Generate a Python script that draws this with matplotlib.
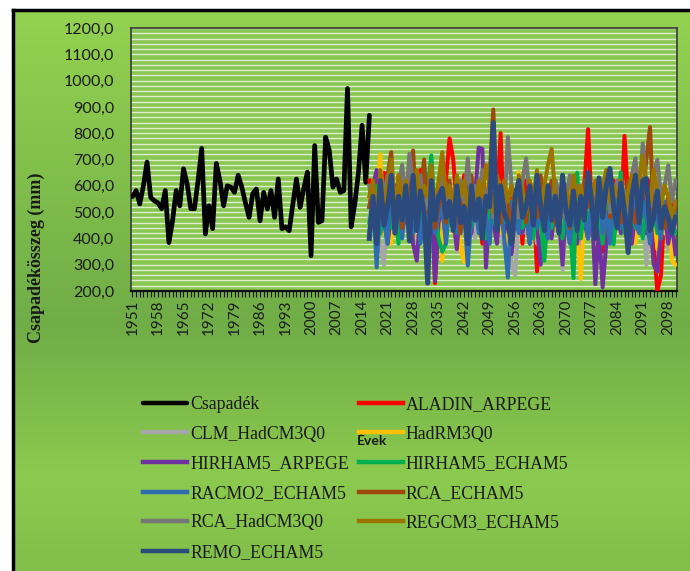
import numpy as np
import matplotlib.pyplot as plt
from matplotlib.colors import LinearSegmentedColormap
from matplotlib.ticker import FuncFormatter, MultipleLocator

# Measured yearly precipitation 1951-2016 (mm)
obs_years = list(range(1951, 2017))
csapadek = [559, 582, 531, 600, 690, 556, 543, 535, 513, 582,
            384, 467, 582, 524, 665, 608, 513, 513, 620, 742,
            417, 524, 437, 685, 620, 524, 600, 595, 575, 640,
            595, 535, 480, 570, 588, 467, 575, 512, 582, 480,
            626, 437, 444, 429, 530, 626, 518, 590, 652, 334,
            753, 461, 467, 785, 734, 595, 626, 575, 582, 970,
            444, 531, 650, 830, 613, 868]

# Model projections 2016-2100 (mm)
model_years = list(range(2016, 2101))
aladin_arpege = [620, 480, 560, 420, 650, 520, 600, 470, 640, 560,
                 500, 620, 450, 590, 660, 520, 430, 600, 230, 480,
                 560, 620, 780, 700, 520, 460, 640, 560, 420, 600,
                 500, 380, 560, 620, 480, 540, 800, 430, 510, 600,
                 470, 560, 380, 620, 500, 560, 275, 480, 600, 520,
                 440, 620, 560, 380, 520, 600, 450, 560, 480, 600,
                 815, 520, 440, 600, 350, 560, 480, 620, 520, 460,
                 790, 540, 420, 600, 500, 560, 460, 620, 380, 200,
                 260, 520, 460, 560, 440]
clm_hadcm3q0 = [480, 560, 420, 380, 300, 520, 460, 580, 400, 540,
                440, 500, 380, 560, 470, 420, 520, 360, 480, 540,
                460, 400, 560, 480, 350, 520, 440, 600, 470, 400,
                520, 460, 380, 560, 430, 500, 440, 360, 480, 300,
                260, 480, 540, 420, 500, 460, 380, 560, 440, 500,
                420, 520, 460, 280, 480, 560, 400, 460, 300, 520,
                480, 420, 560, 380, 460, 520, 400, 480, 540, 430,
                500, 380, 560, 460, 420, 520, 300, 480, 440, 500,
                420, 480, 360, 500, 440]
hadrm3q0 = [560, 480, 600, 720, 420, 520, 380, 600, 460, 540,
            480, 620, 400, 560, 500, 440, 580, 460, 520, 600,
            315, 480, 540, 420, 600, 360, 310, 520, 460, 560,
            440, 520, 600, 400, 480, 560, 420, 500, 360, 540,
            480, 652, 420, 520, 460, 560, 400, 480, 540, 420,
            500, 440, 560, 380, 520, 620, 460, 400, 246, 480,
            540, 420, 500, 380, 560, 460, 520, 400, 480, 560,
            440, 520, 540, 380, 480, 420, 560, 460, 500, 360,
            480, 420, 540, 315, 300]
hirham5_arpege = [520, 600, 660, 420, 560, 380, 500, 600, 440, 520,
                  460, 560, 380, 315, 500, 560, 420, 600, 238, 460,
                  520, 400, 560, 480, 360, 540, 460, 600, 420, 560,
                  745, 740, 289, 520, 460, 380, 560, 420, 500, 340,
                  480, 560, 420, 500, 380, 560, 440, 300, 520, 460,
                  400, 540, 480, 300, 560, 440, 500, 380, 520, 460,
                  400, 520, 226, 440, 214, 380, 500, 440, 560, 420,
                  480, 540, 380, 500, 440, 560, 420, 480, 300, 274,
                  420, 500, 380, 460, 340]
hirham5_echam5 = [460, 540, 600, 420, 500, 560, 440, 520, 380, 560,
                  480, 520, 420, 560, 480, 440, 600, 715, 500, 400,
                  349, 380, 520, 460, 560, 420, 500, 580, 440, 520,
                  460, 560, 400, 520, 480, 440, 600, 460, 520, 380,
                  500, 560, 440, 480, 520, 400, 560, 460, 315, 500,
                  440, 560, 480, 400, 520, 460, 249, 650, 400, 520,
                  460, 540, 420, 500, 380, 560, 440, 377, 520, 652,
                  420, 500, 560, 440, 480, 400, 540, 460, 500, 420,
                  560, 440, 500, 460, 420]
racmo2_echam5 = [420, 560, 290, 520, 460, 380, 600, 440, 520, 400,
                 560, 480, 420, 600, 380, 500, 460, 560, 420, 480,
                 520, 380, 600, 460, 420, 560, 500, 297, 480, 540,
                 420, 600, 480, 380, 560, 460, 520, 400, 251, 540,
                 480, 420, 600, 500, 380, 560, 440, 520, 460, 400,
                 560, 480, 420, 600, 460, 380, 520, 440, 560, 480,
                 400, 540, 460, 600, 420, 500, 380, 560, 480, 440,
                 520, 400, 580, 460, 420, 540, 480, 380, 520, 460,
                 400, 540, 480, 420, 500]
rca_echam5 = [520, 600, 460, 560, 500, 640, 728, 480, 560, 440,
              600, 520, 734, 460, 560, 700, 500, 620, 440, 520,
              580, 460, 620, 500, 560, 420, 600, 520, 640, 480,
              560, 600, 500, 640, 890, 520, 460, 600, 540, 420,
              580, 500, 620, 460, 560, 520, 480, 640, 500, 560,
              620, 460, 540, 500, 600, 440, 560, 520, 480, 620,
              520, 600, 460, 560, 500, 640, 480, 560, 600, 460,
              540, 620, 500, 460, 600, 560, 700, 823, 480, 560,
              500, 440, 560, 480, 520]
rca_hadcm3q0 = [600, 520, 480, 620, 560, 640, 540, 500, 600, 680,
                540, 722, 600, 520, 640, 480, 560, 620, 500, 580,
                640, 520, 600, 480, 560, 620, 540, 704, 520, 600,
                560, 660, 520, 600, 480, 620, 560, 500, 785, 600,
                540, 480, 620, 704, 560, 500, 640, 520, 600, 560,
                500, 620, 580, 480, 560, 640, 520, 600, 540, 500,
                620, 560, 480, 600, 540, 640, 500, 560, 620, 520,
                580, 500, 640, 704, 560, 761, 600, 520, 640, 699,
                560, 600, 678, 540, 620]
regcm3_echam5 = [560, 620, 480, 660, 540, 600, 700, 500, 640, 560,
                 620, 500, 580, 660, 520, 600, 560, 680, 500, 620,
                 728, 560, 600, 500, 640, 560, 620, 520, 600, 480,
                 620, 560, 680, 600, 500, 640, 560, 620, 540, 600,
                 520, 640, 580, 500, 620, 560, 660, 520, 600, 680,
                 740, 560, 500, 620, 580, 520, 640, 560, 600, 500,
                 640, 560, 620, 520, 600, 660, 540, 600, 560, 620,
                 500, 580, 640, 560, 620, 715, 600, 540, 660, 580,
                 520, 600, 560, 480, 540]
remo_echam5 = [400, 560, 380, 620, 450, 520, 640, 420, 560, 470,
               600, 390, 640, 430, 580, 500, 230, 620, 470, 560,
               590, 480, 540, 430, 600, 460, 520, 380, 600, 470,
               550, 400, 560, 520, 840, 430, 600, 500, 460, 380,
               560, 620, 480, 520, 600, 450, 640, 520, 430, 600,
               470, 560, 420, 640, 500, 450, 580, 430, 560, 470,
               650, 540, 400, 630, 480, 600, 666, 520, 440, 610,
               500, 346, 560, 640, 460, 620, 627, 430, 480, 580,
               440, 520, 480, 420, 480]

tick_years = list(range(1951, 2100, 7))

series = [
    ('ALADIN_ARPEGE', aladin_arpege, '#FF0000'),
    ('CLM_HadCM3Q0', clm_hadcm3q0, '#A6A6A6'),
    ('HadRM3Q0', hadrm3q0, '#FFC000'),
    ('HIRHAM5_ARPEGE', hirham5_arpege, '#7030A0'),
    ('HIRHAM5_ECHAM5', hirham5_echam5, '#00B050'),
    ('RACMO2_ECHAM5', racmo2_echam5, '#2E6DB0'),
    ('RCA_ECHAM5', rca_echam5, '#9E480E'),
    ('RCA_HadCM3Q0', rca_hadcm3q0, '#767676'),
    ('REGCM3_ECHAM5', regcm3_echam5, '#9C7400'),
    ('REMO_ECHAM5', remo_echam5, '#2B4A7E'),
]

fig = plt.figure(figsize=(6.9, 5.71), dpi=100)
fig.patch.set_facecolor('white')

# Green gradient background with black top/left frame
bg = fig.add_axes([13 / 690, -0.02, 1.02 - 13 / 690, 1.02 - 10 / 571])
grad_cmap = LinearSegmentedColormap.from_list(
    'bg', [(0.0, '#94D251'), (0.55, '#70AD47'), (0.82, '#8CCA4F'), (1.0, '#80BD4A')])
bg.imshow(np.linspace(0, 1, 256).reshape(-1, 1), aspect='auto', cmap=grad_cmap,
          extent=[0, 1, 0, 1])
bg.set_xticks([])
bg.set_yticks([])
for side in ['right', 'bottom']:
    bg.spines[side].set_visible(False)
for side in ['top', 'left']:
    bg.spines[side].set_color('black')
    bg.spines[side].set_linewidth(2.5)

ax = fig.add_axes([131 / 690, 1 - 291 / 571, (677 - 131) / 690, (291 - 28) / 571])
ax.set_facecolor('#8AC652')

handles = {}
line, = ax.plot(obs_years, csapadek, color='black', lw=3.4, solid_capstyle='round', zorder=3)
handles['Csapadék'] = line
for name, vals, col in series:
    lw = 3.6 if name == 'REMO_ECHAM5' else 2.9
    line, = ax.plot(model_years, vals, color=col, lw=lw, solid_joinstyle='round', zorder=3)
    handles[name] = line

ax.set_ylim(200, 1200)
ax.set_xlim(1950.6, 2100.4)
ax.yaxis.set_major_locator(MultipleLocator(100))
ax.yaxis.set_minor_locator(MultipleLocator(20))
ax.yaxis.set_major_formatter(FuncFormatter(lambda v, p: f'{v:.1f}'.replace('.', ',')))
ax.grid(True, which='both', axis='y', color='#EEF7E6', lw=1.0, alpha=0.85)
ax.set_axisbelow(True)

ax.set_xticks(tick_years)
ax.set_xticks(range(1951, 2101), minor=True)
ax.tick_params(axis='x', which='both', direction='out', length=4, width=0.8, color='#1a1a1a')
ax.tick_params(axis='x', which='major', labelrotation=90, labelsize=11, pad=2)
ax.tick_params(axis='y', which='both', length=0, labelsize=11.5, pad=12)
for lab in ax.get_xticklabels() + ax.get_yticklabels():
    lab.set_fontfamily('Lato')
    lab.set_color('#1c1c1c')

for side in ['top', 'right', 'left']:
    ax.spines[side].set_color('#3a3a3a')
    ax.spines[side].set_linewidth(1.2)
ax.spines['bottom'].set_color('#111111')
ax.spines['bottom'].set_linewidth(1.6)

fig.text(36 / 690, 1 - 258 / 571, 'Csapadékösszeg (mm)', rotation=90, ha='center', va='center',
         fontsize=13, fontweight='bold', family='Liberation Serif', color='#1a1a1a')

# Legend: row-major order, two columns
order = ['Csapadék', 'CLM_HadCM3Q0', 'HIRHAM5_ARPEGE', 'RACMO2_ECHAM5', 'RCA_HadCM3Q0',
         'REMO_ECHAM5', 'ALADIN_ARPEGE', 'HadRM3Q0', 'HIRHAM5_ECHAM5', 'RCA_ECHAM5',
         'REGCM3_ECHAM5']
leg = fig.legend([handles[k] for k in order], order, ncol=2, loc='upper left',
                 bbox_to_anchor=(143 / 690, 1 - 396 / 571), frameon=False,
                 prop={'family': 'Liberation Serif', 'size': 12.8},
                 handlelength=2.5, handletextpad=0.15, columnspacing=0.55,
                 labelspacing=0.71, borderpad=0, borderaxespad=0)
for h in leg.legend_handles:
    h.set_linewidth(3.2)
for t in leg.get_texts():
    t.set_color('#1a1a1a')

fig.text(372 / 690, 1 - 441 / 571, 'Évek', ha='center', va='center', fontsize=10,
         fontweight='bold', family='Lato', color='#1a1a1a')

plt.savefig('out.png', dpi=100)
